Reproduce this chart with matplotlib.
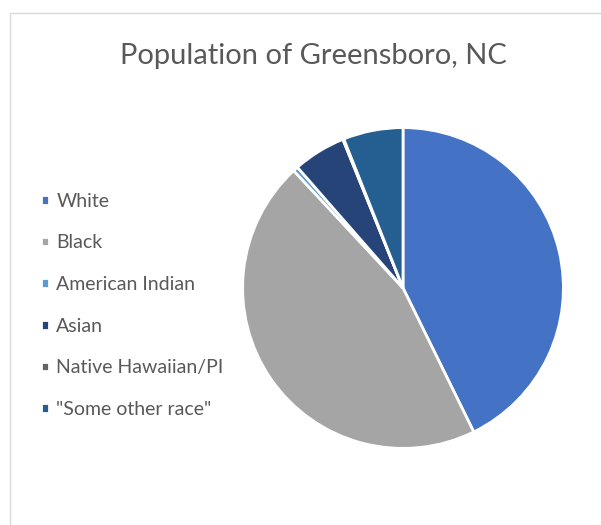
import matplotlib
matplotlib.use("Agg")
import matplotlib.pyplot as plt
from matplotlib.patches import Rectangle

# share of residents by race, percent
races = ["White", "Black", "American Indian", "Asian",
         "Native Hawaiian/PI", '"Some other race"']
shares = [42.6, 45.2, 0.5, 5.3, 0.1, 6.0]
colours = ["#4472C4", "#A5A5A5", "#5B9BD5", "#264478", "#636363", "#255E91"]

plt.rcParams["font.family"] = ["Lato", "DejaVu Sans"]
text_col = "#595959"

W, H = 601, 525
fig = plt.figure(figsize=(W / 100, H / 100), dpi=100)

# chart area border (runs off the right and bottom)
fig.add_artist(Rectangle((10 / W, -0.1), 1.2, 1 - 13 / H + 0.1,
                         transform=fig.transFigure, facecolor="white",
                         edgecolor="#D9D9D9", linewidth=1.0, zorder=-5))

cx, cy, r = 403, 288, 162
ax = fig.add_axes([(cx - r) / W, (H - cy - r) / H, 2 * r / W, 2 * r / H])
wedges, _ = ax.pie(shares, colors=colours, startangle=90, counterclock=False,
                   radius=1.0,
                   wedgeprops=dict(edgecolor="white", linewidth=2.0))
ax.set_xlim(-1.01, 1.01)
ax.set_ylim(-1.01, 1.01)
ax.set_aspect("equal")
ax.axis("off")

fig.text(313 / W, 1 - 56 / H, "Population of Greensboro, NC", ha="center",
         va="center", fontsize=21, color=text_col)

fig.legend(wedges, races, loc="upper left",
           bbox_to_anchor=(31 / W, 1 - 183 / H), frameon=False,
           fontsize=14, labelcolor=text_col, handlelength=0.4,
           handleheight=0.4, handletextpad=0.4, labelspacing=1.27,
           borderpad=0)

fig.savefig("out.png", dpi=100)
